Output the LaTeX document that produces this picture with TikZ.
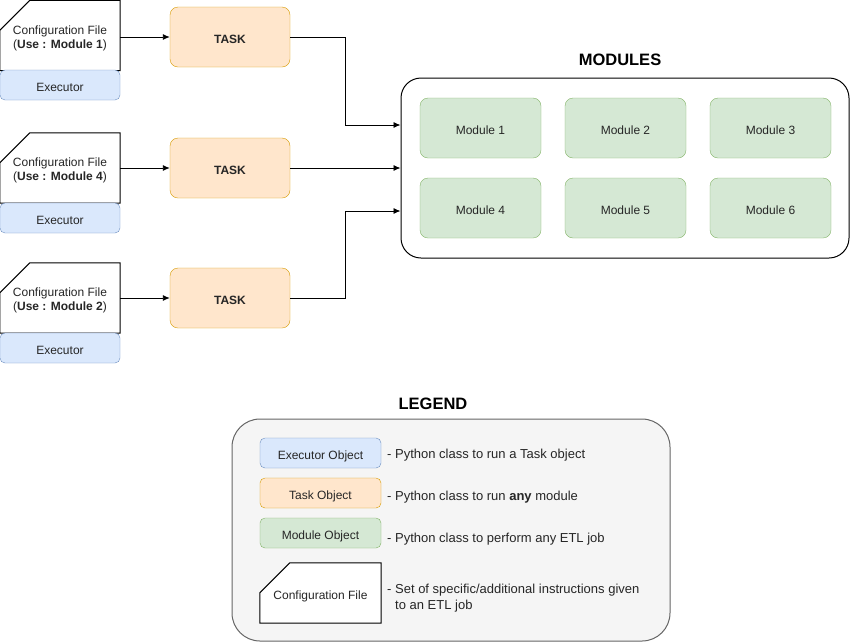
\documentclass[tikz,border=0pt]{standalone}
\usepackage{fontspec}
\setmainfont{Liberation Sans}
\usetikzlibrary{arrows.meta}
\definecolor{exfill}{HTML}{DAE8FC}\definecolor{exline}{HTML}{6C8EBF}
\definecolor{tkfill}{HTML}{FFE6CC}\definecolor{tkline}{HTML}{D79B00}
\definecolor{mdfill}{HTML}{D5E8D4}\definecolor{mdline}{HTML}{82B366}
\definecolor{lgfill}{HTML}{F5F5F5}\definecolor{lgline}{HTML}{666666}
\begin{document}
\begin{tikzpicture}[x=1pt,y=-1pt,
  txt/.style={font=\fontsize{12}{14}\selectfont, text=black!85},
  one/.style={text height=12.5pt, text depth=0pt},
  cfgbox/.style={minimum width=120pt, minimum height=70pt, inner sep=0pt},
  cfgtxt/.style={txt, align=center, inner sep=0pt},
  exbox/.style={txt, one, draw=exline, fill=exfill, rounded corners=5pt, minimum width=120pt, minimum height=30pt, inner sep=0pt},
  taskbox/.style={txt, one, draw=tkline, fill=tkfill, rounded corners=8pt, minimum width=120pt, minimum height=60pt, inner sep=0pt, font=\fontsize{12}{14}\selectfont\bfseries},
  modbox/.style={txt, one, draw=mdline, fill=mdfill, rounded corners=8pt, minimum width=121pt, minimum height=60pt, inner sep=0pt},
  legbox/.style={txt, one, minimum width=121pt, minimum height=30pt, inner sep=0pt, rounded corners=5pt},
  desc/.style={anchor=west, font=\fontsize{13}{16}\selectfont, text=black!85, inner sep=0pt, align=left},
  title/.style={font=\fontsize{16.5}{18}\selectfont\bfseries},
  arr/.style={-{Latex[length=7pt,width=6pt]}, line width=0.9pt},
  cfgshape/.style={line width=1pt}
]
\useasboundingbox (0,0) rectangle (851,641);

% configuration files + executors
\node[cfgbox] (cfg1) at (60,35.5) {};
\draw[cfgshape] ([yshift=-30pt]cfg1.north west) -- ([xshift=30pt]cfg1.north west) -- (cfg1.north east) -- (cfg1.south east) -- (cfg1.south west) -- cycle;
\node[cfgtxt] (cfg1t) at ([yshift=-2.5pt]cfg1.center) {Configuration File\\(\textbf{Use : Module 1})};
\node[exbox] (ex1) at (60,85) {Executor};

\node[cfgbox] (cfg2) at (60,168) {};
\draw[cfgshape] ([yshift=-30pt]cfg2.north west) -- ([xshift=30pt]cfg2.north west) -- (cfg2.north east) -- (cfg2.south east) -- (cfg2.south west) -- cycle;
\node[cfgtxt] (cfg2t) at ([yshift=-2.5pt]cfg2.center) {Configuration File\\(\textbf{Use : Module 4})};
\node[exbox] (ex2) at (60,218) {Executor};

\node[cfgbox] (cfg3) at (60,298) {};
\draw[cfgshape] ([yshift=-30pt]cfg3.north west) -- ([xshift=30pt]cfg3.north west) -- (cfg3.north east) -- (cfg3.south east) -- (cfg3.south west) -- cycle;
\node[cfgtxt] (cfg3t) at ([yshift=-2.5pt]cfg3.center) {Configuration File\\(\textbf{Use : Module 2})};
\node[exbox] (ex3) at (60,348) {Executor};

% tasks
\node[taskbox] (task1) at (230,37) {TASK};
\node[taskbox] (task2) at (230,168) {TASK};
\node[taskbox] (task3) at (230,298) {TASK};

% modules
\node[title] (modt) at (620,60) {MODULES};
\node[draw, line width=1pt, rounded corners=20pt, minimum width=448pt, minimum height=180pt, inner sep=0pt] (mods) at (625,168) {};
\node[modbox] (m1) at (480.5,128) {Module 1};
\node[modbox] (m2) at (625.5,128) {Module 2};
\node[modbox] (m3) at (770.5,128) {Module 3};
\node[modbox] (m4) at (480.5,208) {Module 4};
\node[modbox] (m5) at (625.5,208) {Module 5};
\node[modbox] (m6) at (770.5,208) {Module 6};

% connectors
\draw[arr] (task1.west -| cfg1.east) -- (task1.west);
\draw[arr] (task2.west -| cfg2.east) -- (task2.west);
\draw[arr] (task3.west -| cfg3.east) -- (task3.west);
\coordinate (j1) at (345,125);
\coordinate (j3) at (345,211);
\draw[arr] (task1.east) -| (j1) -- (j1 -| mods.west);
\draw[arr] (task2.east) -- (task2.east -| mods.west);
\draw[arr] (task3.east) -| (j3) -- (j3 -| mods.west);

% legend
\node[title] (legt) at (433,404) {LEGEND};
\node[draw=lgline, fill=lgfill, line width=1pt, rounded corners=28pt, minimum width=438pt, minimum height=222pt, inner sep=0pt] (leg) at (451,530) {};
\node[legbox, draw=exline, fill=exfill] (lex) at (320.5,453) {Executor Object};
\node[legbox, draw=tkline, fill=tkfill] (ltk) at (320.5,493) {Task Object};
\node[legbox, draw=mdline, fill=mdfill] (lmd) at (320.5,533) {Module Object};
\node[minimum width=121pt, minimum height=60pt, inner sep=0pt] (lcf) at (320.5,593) {};
\draw[cfgshape, fill=white] ([yshift=-30pt]lcf.north west) -- ([xshift=30pt]lcf.north west) -- (lcf.north east) -- (lcf.south east) -- (lcf.south west) -- cycle;
\node[txt, one, inner sep=0pt] (lcft) at (lcf.center) {Configuration File};
\node[desc] (d1) at (387,455) {- Python class to run a Task object};
\node[desc] (d2) at (387,497) {- Python class to run \textbf{any} module};
\node[desc] (d3) at (387,539) {- Python class to perform any ETL job};
\node[desc] (d4) at (387,598) {- Set of specific/additional instructions given\\\hspace{8pt}to an ETL job};
\end{tikzpicture}
\end{document}
